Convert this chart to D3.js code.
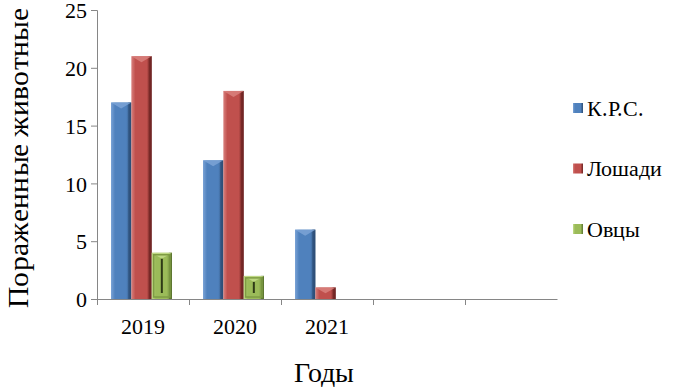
<!DOCTYPE html>
<html>
<head>
<meta charset="utf-8">
<script src="https://cdn.jsdelivr.net/npm/d3@7"></script>
<style>
  @font-face { font-family: "ChartSerif"; src: local("Liberation Serif"), local("LiberationSerif"), local("LiberationSerif-Regular"); }
  body { margin: 0; background: #fff; }
</style>
</head>
<body>
<svg id="chart" width="678" height="388"></svg>
<script>
// data
var years = ["2019", "2020", "2021", "", ""];
var seriesNames = ["К.Р.С.", "Лошади", "Овцы"];
var krs = [17, 12, 6, null, null];
var horses = [21, 18, 1, null, null];
var sheep = [4, 2, 0, null, null];
var yTicks = [0, 5, 10, 15, 20, 25];

var colors = ["#4F81BD", "#C0504D", "#9BBB59"];
var darks = ["#2c4d75", "#6e2422", "#5b7530"];
var lights = ["#7ba3d6", "#d9817e", "#c3dc8a"];
var FONT = "ChartSerif, 'Liberation Serif', 'Times New Roman', serif";

var svg = d3.select("#chart");
var margin = { left: 97, top: 10, right: 121, bottom: 89 };
var width = 678 - margin.left - margin.right;
var height = 388 - margin.top - margin.bottom;

var x = d3.scaleBand().domain(d3.range(years.length)).range([0, width]);
var x1 = d3.scaleBand().domain(d3.range(seriesNames.length))
    .range([14, x.bandwidth() - 17]).padding(0);
var y = d3.scaleLinear().domain([0, 25]).range([height, 0]);

// gradients for the bevelled bars
var defs = svg.append("defs");
colors.forEach(function (c, i) {
    var g = defs.append("linearGradient").attr("id", "grad" + i)
        .attr("x1", "0").attr("x2", "1").attr("y1", "0").attr("y2", "0");
    g.append("stop").attr("offset", "0").attr("stop-color", lights[i]);
    g.append("stop").attr("offset", "0.2").attr("stop-color", c);
    g.append("stop").attr("offset", "0.75").attr("stop-color", c);
    g.append("stop").attr("offset", "1").attr("stop-color", darks[i]);
});

var g = svg.append("g").attr("transform", "translate(" + margin.left + "," + margin.top + ")");

var data = [krs, horses, sheep];

years.forEach(function (yr, ci) {
    data.forEach(function (arr, si) {
        var v = arr[ci];
        if (v == null || v <= 0) return;
        var bx = x(ci) + x1(si);
        var bw = x1.bandwidth();
        var by = y(v);
        var bh = y(0) - y(v);
        g.append("rect").attr("x", bx).attr("y", by).attr("width", bw).attr("height", bh)
            .attr("fill", "url(#grad" + si + ")");
        // right edge shade
        g.append("rect").attr("x", bx + bw - 3).attr("y", by).attr("width", 3).attr("height", bh)
            .attr("fill", darks[si]).attr("opacity", 0.7);
        // top bevel as a small triangle
        var tri = Math.min(6, bh / 2);
        g.append("path")
            .attr("d", "M" + bx + "," + by + "L" + (bx + bw) + "," + by + "L" + (bx + bw / 2) + "," + (by + tri) + "Z")
            .attr("fill", lights[si]).attr("opacity", 0.85);
        if (si == 2) {
            // inner edge on the short green bars
            g.append("rect").attr("x", bx + 2).attr("y", by + 2).attr("width", bw - 4).attr("height", Math.max(0, bh - 4))
                .attr("fill", "none").attr("stroke", "#7e9c43").attr("stroke-width", 1.5);
            g.append("line").attr("x1", bx + bw / 2).attr("x2", bx + bw / 2)
                .attr("y1", by + 6).attr("y2", Math.max(by + 6, y(0) - 6))
                .attr("stroke", "#2e3a16").attr("stroke-width", 2);
        }
    });
});

// y axis
var yAxis = g.append("g")
    .call(d3.axisLeft(y).tickValues(yTicks).tickSize(6).tickPadding(4));
yAxis.attr("font-family", null).attr("font-size", null);
yAxis.selectAll("text").style("font-family", FONT).style("font-size", "22px")
    .attr("dy", "0.35em").attr("fill", "#000");
yAxis.selectAll("line, path").attr("stroke", "#868686");

// x axis
var xAxis = g.append("g").attr("transform", "translate(0," + height + ")")
    .call(d3.axisBottom(x).tickValues([]).tickSizeOuter(0));
xAxis.select("path").attr("stroke", "#868686");
d3.range(years.length).forEach(function (i) {
    xAxis.append("line").attr("x1", x(i) + 0.5).attr("x2", x(i) + 0.5)
        .attr("y1", 0).attr("y2", 6).attr("stroke", "#868686");
});
xAxis.selectAll("text.lbl").data(years).enter().append("text").attr("class", "lbl")
    .attr("x", function (d, i) { return x(i) + x.bandwidth() / 2; })
    .attr("y", 35)
    .attr("text-anchor", "middle")
    .attr("fill", "#000")
    .style("font-family", FONT)
    .style("font-size", "22px")
    .text(function (d) { return d; });

// axis titles
svg.append("text").attr("transform", "translate(28,158) rotate(-90)")
    .attr("text-anchor", "middle")
    .style("font-family", FONT).style("font-size", "29px")
    .attr("textLength", 300).attr("lengthAdjust", "spacingAndGlyphs")
    .text("Пораженные  животные");
svg.append("text").attr("x", 324).attr("y", 382)
    .attr("text-anchor", "middle")
    .style("font-family", FONT).style("font-size", "28px")
    .text("Годы");

// legend
var legend = svg.append("g").attr("transform", "translate(573,108)");
seriesNames.forEach(function (name, i) {
    var row = legend.append("g").attr("transform", "translate(0," + (i * 60.5) + ")");
    row.append("rect").attr("x", 0).attr("y", -5).attr("width", 10).attr("height", 10)
        .attr("fill", "url(#grad" + i + ")");
    row.append("text").attr("x", 14).attr("y", 0).attr("dy", "0.35em")
        .style("font-family", FONT).style("font-size", "22px").text(name);
});
</script>
</body>
</html>
